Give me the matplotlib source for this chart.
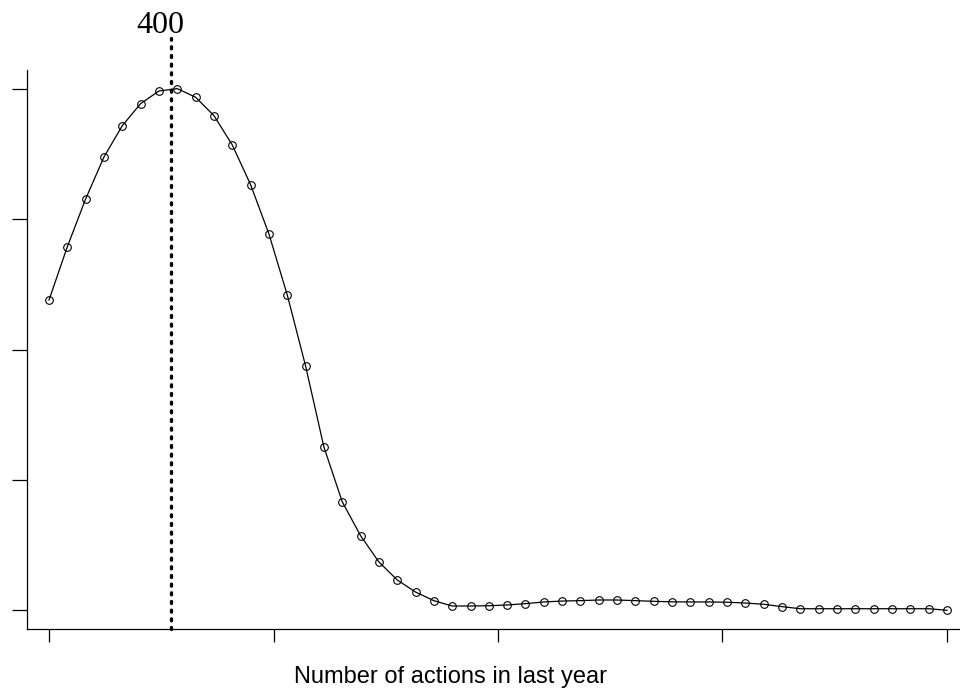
import numpy as np
import matplotlib.pyplot as plt

# number of actions (x) and fitted curve values (y)
actions = np.arange(0, 3000, 60)
values = [2.381, 2.790, 3.157, 3.479, 3.719, 3.888, 3.985, 4.003, 3.937, 3.796,
          3.571, 3.266, 2.888, 2.420, 1.875, 1.253, 0.833, 0.573, 0.371, 0.233,
          0.140, 0.074, 0.033, 0.033, 0.035, 0.041, 0.051, 0.064, 0.071, 0.074,
          0.079, 0.079, 0.074, 0.069, 0.065, 0.064, 0.064, 0.062, 0.056, 0.046,
          0.028, 0.012, 0.012, 0.012, 0.012, 0.012, 0.012, 0.012, 0.012, 0.0]
x_ticks = np.linspace(0, 2940, 5)
y_ticks = [0, 1, 2, 3, 4]
marker_x = 400
marker_label = '400'

fig = plt.figure(figsize=(9.6, 6.9), dpi=100)
ax = fig.add_axes([26.5/960, 61/690, (960-26.5)/960, 559/690])

ax.plot(actions, values, color='black', lw=0.9, marker='o', ms=5.5,
        mfc='none', mec='black', mew=0.8)

ax.set_xlim(-73.7, 2982.6)
ax.set_ylim(-0.1435, 4.146)

# vertical dotted marker line, running above the plot region
ax.plot([marker_x, marker_x], [-0.1435, 4.39], color='black', lw=2.4,
        linestyle=(0, (0.6, 2.0)), dash_capstyle='round', clip_on=False)
ax.annotate(marker_label, xy=(marker_x, 4.39), xytext=(-7.5, -1.5),
            textcoords='offset points', ha='center', va='bottom',
            fontsize=23, family='Liberation Serif', annotation_clip=False)

ax.spines['top'].set_visible(False)
ax.spines['right'].set_visible(False)
ax.set_xticks(x_ticks)
ax.set_yticks(y_ticks)
ax.set_xticklabels([])
ax.set_yticklabels([])
ax.tick_params(axis='y', direction='out', length=11, width=0.9)
ax.tick_params(axis='x', direction='out', length=9, width=0.9)
for s in ['left', 'bottom']:
    ax.spines[s].set_linewidth(0.9)

fig.text(450.5/960, 1 - 683/690, 'Number of actions in last year',
         ha='center', va='baseline', fontsize=17, family='Liberation Sans')

fig.savefig('out.png', dpi=100)
